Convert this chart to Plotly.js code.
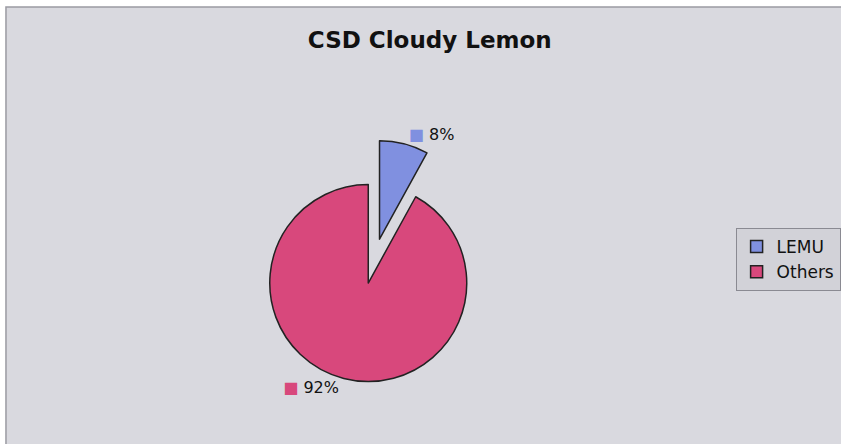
<!DOCTYPE html>
<html>
<head>
<meta charset="utf-8">
<script src="https://cdn.plot.ly/plotly-3.0.1.min.js"></script>
<style>html,body{margin:0;padding:0;background:#fff;}</style>
</head>
<body>
<div id="chart" style="width:841px;height:444px;"></div>
<script>
const categories = ["LEMU", "Others"];
const values = [8, 92];
const colors = ["#8090e0", "#d8487c"];
const pulls = [0.46, 0];
const chartTitle = "CSD Cloudy Lemon";

const FONT = "DejaVu Sans, Verdana, sans-serif";

const trace = {
  type: "pie",
  labels: categories,
  values: values,
  sort: false,
  direction: "clockwise",
  rotation: 0,
  pull: pulls,
  marker: { colors: colors, line: { color: "#222", width: 1.5 } },
  textposition: "outside",
  texttemplate: categories.map((c, i) =>
    "<span style='color:" + colors[i] + "'>■</span> %{percent}"),
  textfont: { family: FONT, size: 16, color: "#111" },
  hoverinfo: "label+percent",
  domain: { x: [0.2685, 0.6125], y: [0.03, 0.695] }
};

const layout = {
  width: 841,
  height: 444,
  margin: { l: 0, r: 0, t: 0, b: 0 },
  paper_bgcolor: "#ffffff",
  plot_bgcolor: "#ffffff",
  title: {
    text: "<b>" + chartTitle + "</b>",
    x: 0.511, xanchor: "center",
    y: 1 - 40 / 444, yanchor: "middle",
    font: { family: FONT, size: 23, color: "#111" }
  },
  shapes: [{
    type: "rect", xref: "paper", yref: "paper",
    x0: 6 / 841, x1: 1.01, y0: -0.01, y1: 1 - 7 / 444,
    fillcolor: "#d9d9df", line: { color: "#9a9aa2", width: 1.5 },
    layer: "below"
  }],
  showlegend: true,
  legend: {
    x: 740 / 841, xanchor: "left",
    y: 1 - 228 / 444, yanchor: "top",
    bgcolor: "#d2d2d8",
    bordercolor: "#8a8a92",
    borderwidth: 1,
    font: { family: FONT, size: 17, color: "#111" },
    itemwidth: 30,
    tracegroupgap: 0
  }
};

Plotly.newPlot("chart", [trace], layout, { displayModeBar: false, staticPlot: true });
</script>
</body>
</html>
